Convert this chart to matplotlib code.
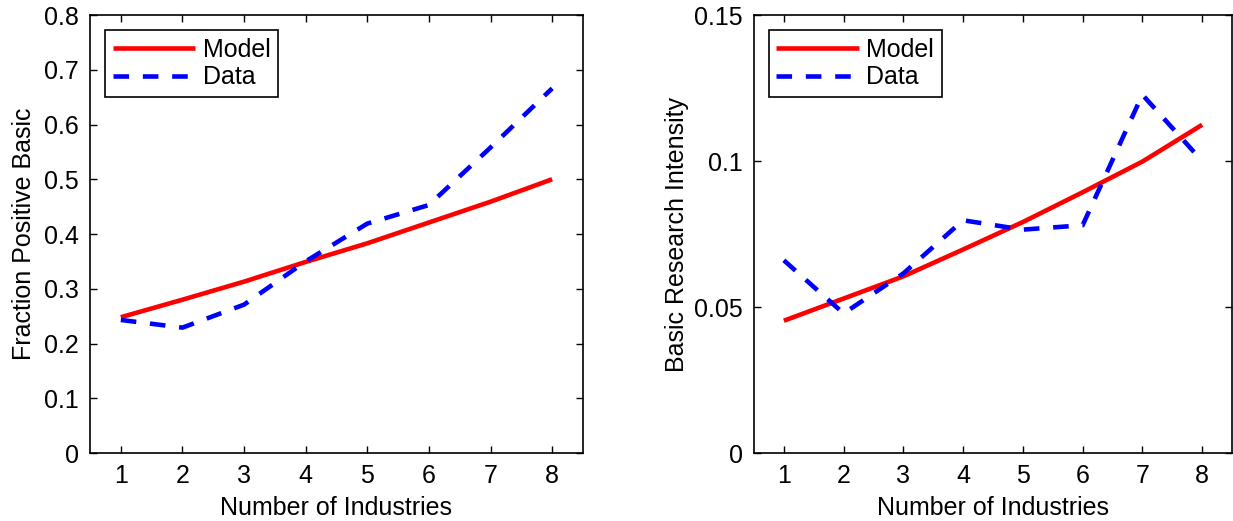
import matplotlib
matplotlib.use("Agg")
import matplotlib.pyplot as plt

x = [1, 2, 3, 4, 5, 6, 7, 8]
left_model = [0.248, 0.280, 0.313, 0.349, 0.383, 0.421, 0.459, 0.500]
left_data = [0.243, 0.229, 0.271, 0.350, 0.419, 0.453, 0.558, 0.666]
right_model = [0.0453, 0.0529, 0.0605, 0.0697, 0.0791, 0.0893, 0.0998, 0.1124]
right_data = [0.0660, 0.0478, 0.0615, 0.0797, 0.0765, 0.0780, 0.1227, 0.1000]

left_yticks = [0, 0.1, 0.2, 0.3, 0.4, 0.5, 0.6, 0.7, 0.8]
left_yticklabels = ["0", "0.1", "0.2", "0.3", "0.4", "0.5", "0.6", "0.7", "0.8"]
right_yticks = [0, 0.05, 0.1, 0.15]
right_yticklabels = ["0", "0.05", "0.1", "0.15"]

plt.rcParams['font.family'] = ['Liberation Sans', 'DejaVu Sans']
FS = 18

fig = plt.figure(figsize=(12.33, 5.21), dpi=100)
ax1 = fig.add_axes([0.073, 0.1305, 0.3998, 0.8407])
ax2 = fig.add_axes([0.6115, 0.1305, 0.3877, 0.8407])

def style(ax, model, data, yticks, ylabels, ylim, ylabel, ylpad):
    ax.plot(x, model, color='red', lw=3.3, solid_capstyle='butt', label='Model')
    ax.plot(x, data, color='blue', lw=3.3, linestyle=(0, (3.4, 3.0)), dash_capstyle='butt', label='Data')
    ax.set_xlim(0.5, 8.5)
    ax.set_ylim(*ylim)
    ax.set_xticks(x)
    ax.set_yticks(yticks)
    ax.set_yticklabels(ylabels)
    ax.tick_params(direction='in', top=True, right=True, length=5, width=1, labelsize=FS, pad=8)
    for s in ax.spines.values():
        s.set_linewidth(1.2)
    ax.set_xlabel('Number of Industries', fontsize=FS, labelpad=6)
    ax.set_ylabel(ylabel, fontsize=FS, labelpad=ylpad)
    leg = ax.legend(loc='upper left', fancybox=False, edgecolor='black', framealpha=1,
                    handlelength=3.3, fontsize=FS, borderpad=0.3, labelspacing=0.15,
                    handletextpad=0.3, borderaxespad=0.6)
    leg.get_frame().set_linewidth(1.2)

style(ax1, left_model, left_data, left_yticks, left_yticklabels, (0, 0.8), 'Fraction Positive Basic', 6)
style(ax2, right_model, right_data, right_yticks, right_yticklabels, (0, 0.15), 'Basic Research Intensity', 4)

fig.savefig('out.png', dpi=100)
